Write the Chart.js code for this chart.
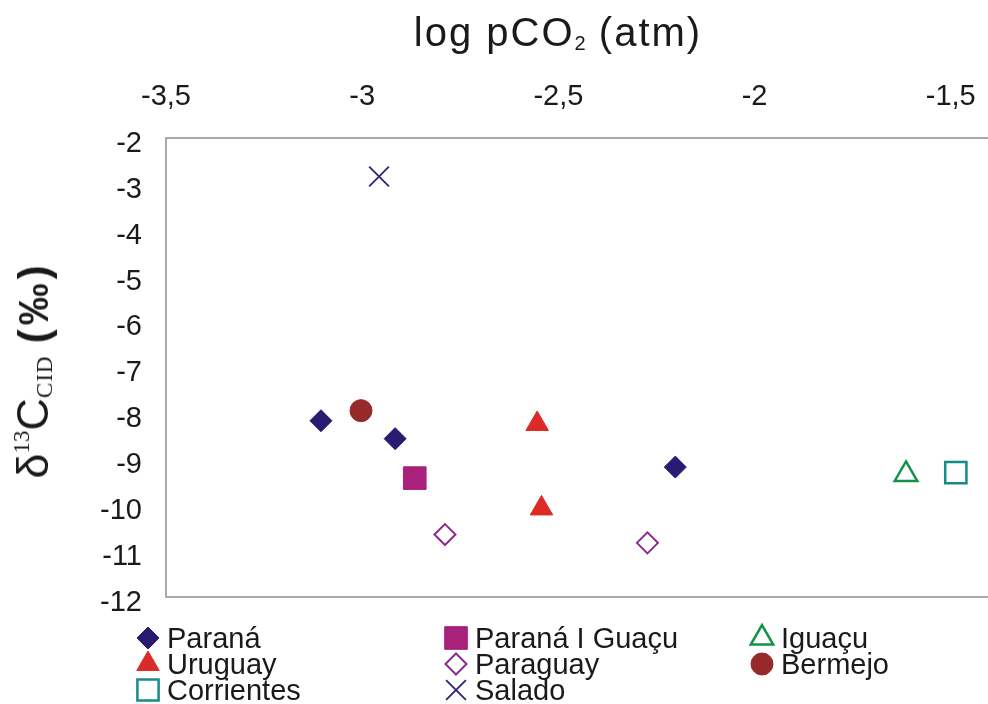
<!DOCTYPE html>
<html>
<head>
<meta charset="utf-8">
<script src="https://cdn.jsdelivr.net/npm/chart.js@4.4.0/dist/chart.umd.min.js"></script>
<style>
  html, body { margin: 0; padding: 0; background: #fff; overflow: hidden; }
  #wrap { position: relative; width: 988px; height: 704px; }
  #chart { position: absolute; left: 0; top: 0; }
  #xTitle {
    position: absolute; left: 308px; top: 8px; width: 500px; text-align: center;
    font-family: "Liberation Sans", Arial, sans-serif; font-size: 40px; line-height: 48px;
    letter-spacing: 2px; color: #1a1a1a;
  }
  #xTitle sub { font-size: 20px; vertical-align: -4px; letter-spacing: 0; }
  #yTitle {
    position: absolute; left: 33px; top: 370px; white-space: nowrap;
    transform: translate(-50%, -50%) rotate(-90deg);
    font-family: "Liberation Sans", Arial, sans-serif; font-size: 45px; color: #1a1a1a;
  }
  #yTitle sup { font-family: "Liberation Serif", serif; font-size: 23px; vertical-align: 19px; }
  #yTitle sub { font-family: "Liberation Serif", serif; font-size: 23px; vertical-align: -4px; letter-spacing: 1px; }
  #yTitle b { font-size: 42px; margin-left: 12px; letter-spacing: 4px; }
</style>
</head>
<body>
<div id="wrap">
  <canvas id="chart" width="988" height="704"></canvas>
  <div id="xTitle">log pCO<sub>2</sub> (atm)</div>
  <div id="yTitle">δ<sup>13</sup>C<sub>CID</sub><b>(‰)</b></div>
</div>
<script>
// Axis ticks
const xTicks = [-3.5, -3, -2.5, -2, -1.5];
const yTicks = [-2, -3, -4, -5, -6, -7, -8, -9, -10, -11, -12];

// Series (log pCO2, d13C)
const seriesNames = ["Paraná", "Paraná I Guaçu", "Iguaçu", "Uruguay", "Paraguay", "Bermejo", "Corrientes", "Salado"];
const paranaX = [-3.105, -2.916, -2.202];
const paranaY = [-8.16, -8.55, -9.17];
const paranaIGuacuX = [-2.866];
const paranaIGuacuY = [-9.41];
const iguacuX = [-1.614];
const iguacuY = [-9.33];
const uruguayX = [-2.554, -2.543];
const uruguayY = [-8.23, -10.07];
const paraguayX = [-2.789, -2.273];
const paraguayY = [-10.64, -10.82];
const bermejoX = [-3.003];
const bermejoY = [-7.94];
const corrientesX = [-1.487];
const corrientesY = [-9.29];
const saladoX = [-2.957];
const saladoY = [-2.84];

const xs = [paranaX, paranaIGuacuX, iguacuX, uruguayX, paraguayX, bermejoX, corrientesX, saladoX];
const ys = [paranaY, paranaIGuacuY, iguacuY, uruguayY, paraguayY, bermejoY, corrientesY, saladoY];

// Marker styles
const styles = [
  { shape: "rectRot",  r: 11,   fill: "#2b1a72", line: "#2b1a72", w: 1 },
  { shape: "rect",     r: 16,   fill: "#a8217a", line: "#a8217a", w: 1 },
  { shape: "triangle", r: 13,   fill: "#ffffff", line: "#13924a", w: 2.5 },
  { shape: "triangle", r: 13,   fill: "#dc2a26", line: "#dc2a26", w: 1 },
  { shape: "rectRot",  r: 10.5, fill: "#ffffff", line: "#8d2a8c", w: 2 },
  { shape: "circle",   r: 11,   fill: "#962a2a", line: "#962a2a", w: 1 },
  { shape: "rect",     r: 15,   fill: "#ffffff", line: "#158c88", w: 2.5 },
  { shape: "crossRot", r: 14,   fill: "#2f237a", line: "#2f237a", w: 1.8 }
];

const datasets = seriesNames.map((name, i) => ({
  label: name,
  data: xs[i].map((x, j) => ({ x: x, y: ys[i][j] })),
  pointStyle: styles[i].shape,
  pointRadius: styles[i].r,
  pointBackgroundColor: styles[i].fill,
  pointBorderColor: styles[i].line,
  pointBorderWidth: styles[i].w,
  showLine: false
}));

const fontFamily = "'Liberation Sans', Arial, sans-serif";

// plot frame: left, top and bottom lines
const framePlugin = {
  id: "frame",
  beforeDatasetsDraw(chart) {
    const a = chart.chartArea, ctx = chart.ctx;
    ctx.save();
    ctx.strokeStyle = "#8e8e8e";
    ctx.lineWidth = 1.5;
    ctx.beginPath();
    ctx.moveTo(chart.width, a.top);
    ctx.lineTo(a.left, a.top);
    ctx.lineTo(a.left, a.bottom);
    ctx.lineTo(chart.width, a.bottom);
    ctx.stroke();
    ctx.restore();
  }
};

// 3 column legend under the plot
const legendPlugin = {
  id: "gridLegend",
  afterDraw(chart) {
    const ctx = chart.ctx;
    const colX = [148, 456, 762];
    const rowY = [638, 664, 690];
    ctx.save();
    chart.data.datasets.forEach((ds, i) => {
      const x = colX[i % 3], y = rowY[Math.floor(i / 3)];
      ctx.fillStyle = ds.pointBackgroundColor;
      ctx.strokeStyle = ds.pointBorderColor;
      ctx.lineWidth = ds.pointBorderWidth;
      Chart.helpers.drawPoint(ctx, {
        pointStyle: ds.pointStyle, radius: ds.pointRadius, rotation: 0, borderWidth: ds.pointBorderWidth
      }, x, y);
      ctx.fillStyle = "#1a1a1a";
      ctx.font = "29px " + fontFamily;
      ctx.textBaseline = "alphabetic";
      ctx.textAlign = "left";
      ctx.fillText(ds.label, x + 19, y + 10);
    });
    ctx.restore();
  }
};

new Chart(document.getElementById("chart"), {
  type: "scatter",
  data: { datasets: datasets },
  options: {
    responsive: false,
    animation: false,
    events: [],
    layout: { autoPadding: false, padding: { left: 0, right: 0, top: 0, bottom: 107 } },
    plugins: { legend: { display: false }, tooltip: { enabled: false } },
    scales: {
      x: {
        type: "linear",
        position: "top",
        min: -3.5,
        max: -1.405,
        afterBuildTicks: s => { s.ticks = xTicks.map(v => ({ value: v })); },
        afterFit: s => { s.height = 138; s.paddingLeft = 0; s.paddingRight = 0; },
        grid: { display: false, drawTicks: false },
        border: { display: false },
        ticks: {
          padding: 24, color: "#1a1a1a", font: { family: fontFamily, size: 29 }, maxRotation: 0, autoSkip: false,
          callback: v => String(v).replace(".", ",")
        }
      },
      y: {
        type: "linear",
        min: -12,
        max: -2,
        afterBuildTicks: s => { s.ticks = yTicks.map(v => ({ value: v })); },
        afterFit: s => { s.width = 166; },
        grid: { display: false, drawTicks: false },
        border: { display: false },
        ticks: {
          padding: 24, color: "#1a1a1a", autoSkip: false,
          // empty first line nudges the label a little below its tick, as in the original
          font: { family: fontFamily, size: 29, lineHeight: 0.4 },
          callback: v => ["", String(v)]
        }
      }
    }
  },
  plugins: [framePlugin, legendPlugin]
});
</script>
</body>
</html>
